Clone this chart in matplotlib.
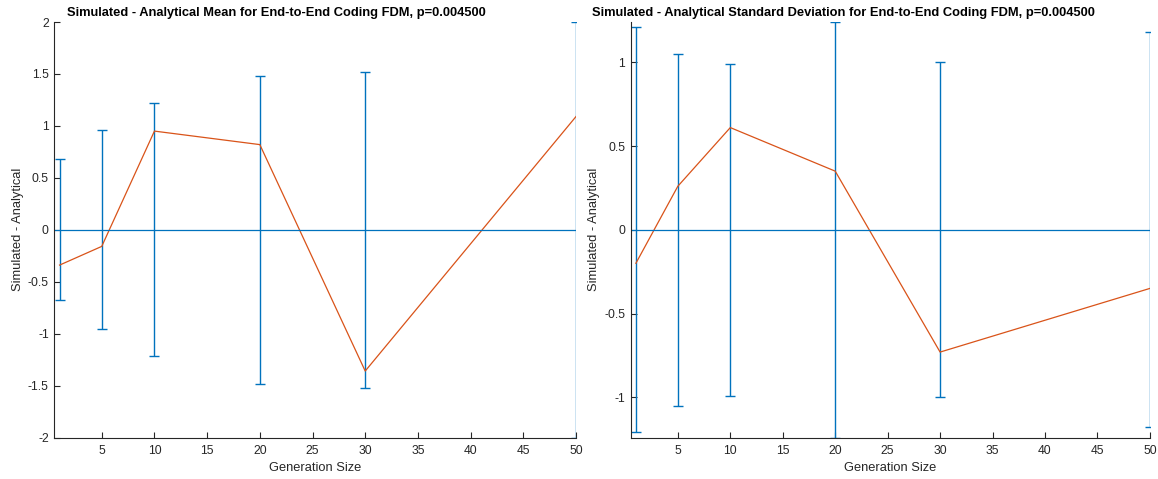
import numpy as np
import matplotlib.pyplot as plt

plt.rcParams['font.family'] = ['Liberation Sans', 'DejaVu Sans']

blue = '#0072BD'
orange = '#D95319'
dark = '#262626'

# Generation sizes and results
gen_size = [1, 5, 10, 20, 30, 50]

mean_diff = [-0.34, -0.16, 0.95, 0.82, -1.36, 1.09]
mean_err = [0.68, 0.96, 1.22, 1.48, 1.52, 2.0]

std_diff = [-0.20, 0.26, 0.61, 0.35, -0.73, -0.35]
std_err = [1.21, 1.05, 0.99, 1.24, 1.0, 1.18]

titles = ['Simulated - Analytical Mean for End-to-End Coding FDM, p=0.004500',
          'Simulated - Analytical Standard Deviation for End-to-End Coding FDM, p=0.004500']

fig = plt.figure(figsize=(11.58, 4.79), dpi=100)
ax1 = fig.add_axes([0.0469, 0.0866, 0.4505, 0.8674])
ax2 = fig.add_axes([0.5446, 0.0866, 0.4484, 0.8674])

panels = [(ax1, mean_diff, mean_err, (-2, 2), [-2, -1.5, -1, -0.5, 0, 0.5, 1, 1.5, 2], 0.425),
          (ax2, std_diff, std_err, (-1.24, 1.24), [-1, -0.5, 0, 0.5, 1], 0.41)]

for i, (ax, diff, err, yl, yt, tx) in enumerate(panels):
    # error bars centred on zero
    ax.errorbar(gen_size, np.zeros(len(gen_size)), yerr=err, fmt='none',
                ecolor=blue, elinewidth=1.0, capsize=3.5, capthick=1.0)
    ax.plot(gen_size, diff, color=orange, linewidth=0.9)
    ax.axhline(0, color=blue, linewidth=0.9)

    ax.set_xlim(0.5, 50)
    ax.set_ylim(yl)
    ax.set_xticks(range(5, 51, 5))
    ax.set_yticks(yt)
    ax.set_yticklabels(['%g' % v for v in yt])

    for s in ['top', 'right']:
        ax.spines[s].set_visible(False)
    for s in ['left', 'bottom']:
        ax.spines[s].set_color(dark)
        ax.spines[s].set_linewidth(0.8)
    ax.tick_params(direction='in', length=4, width=0.8, colors=dark,
                   labelsize=8.7, pad=4)
    ax.tick_params(axis='x', pad=5.5)

    ax.set_xlabel('Generation Size', fontsize=9.3, color=dark, labelpad=3.5)
    ax.set_ylabel('Simulated - Analytical', fontsize=9.3, color=dark, labelpad=3)
    ax.set_title(titles[i], fontsize=9.3, fontweight='bold', x=tx, pad=4)

plt.savefig('out.png', dpi=100)
